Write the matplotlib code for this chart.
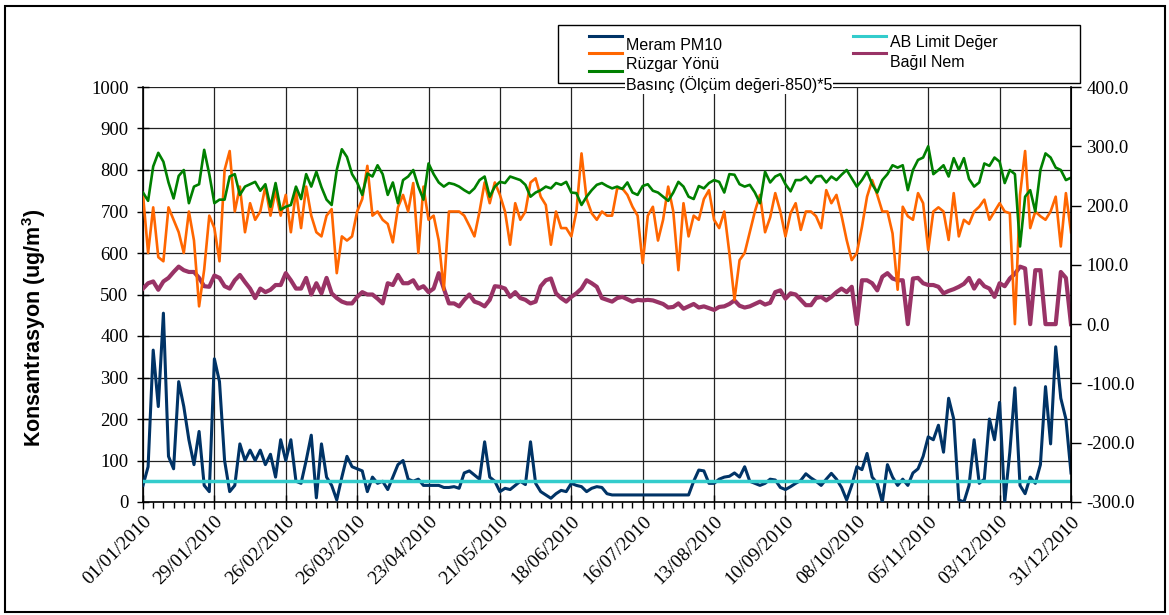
import numpy as np
import pandas as pd
import matplotlib
matplotlib.use("Agg")
import matplotlib.pyplot as plt
import matplotlib.dates as mdates
from matplotlib.lines import Line2D
from matplotlib.patches import Rectangle

plt.rcParams['mathtext.default'] = 'regular'

# every second day of 2010
dates = pd.date_range('2010-01-01', '2010-12-31', freq='2D')

# Meram PM10 (ug/m3) - left axis
pm10 = [40, 85, 366, 230, 455, 110, 80, 290, 230, 150, 90, 170, 40, 25, 345, 290, 100, 25, 40, 140,
        100, 125, 100, 125, 90, 115, 60, 150, 100, 150, 50,
        45, 100, 161, 10, 140, 60, 40, 5, 60, 110, 85, 80, 75, 25, 60, 45, 50, 30, 60,
        90, 100, 55, 50, 55, 40, 40, 40, 40, 35, 35, 37,
        33, 70, 75, 65, 55, 145, 60, 50, 25, 33, 30, 40, 50, 42, 145, 45, 25, 17, 9,
        20, 28, 25, 45, 40, 37, 25, 33, 37, 35, 20, 17,
        17, 17, 17, 17, 17, 17, 17, 17, 17, 17, 17, 17, 17, 17, 17,
        50, 77, 75, 45, 45, 55, 60, 62, 70, 60, 85, 50, 45, 40, 45, 55,
        53, 35, 30, 37, 45, 52, 68, 58, 50, 40, 55, 69, 55, 35, 5, 40, 85, 78, 117, 60,
        45, 0, 90, 60, 40, 55, 40, 70, 80,
        110, 157, 150, 185, 120, 250, 200, 5, 0, 40, 150, 45, 55, 200, 150, 240, 0, 120, 275, 40,
        20, 60, 45, 90, 278, 140, 374, 250, 200, 70]
limit = 50

# right axis series
wind_dir = [218, 120, 197, 113, 106, 197, 176, 155, 120, 190, 141, 30, 92, 183, 162, 106, 260, 292, 190, 232,
            155, 204, 176, 190, 232, 183, 225, 183, 218, 155, 225,
            162, 232, 183, 155, 148, 183, 194, 86, 148, 141, 148, 190, 211, 267, 183, 190, 176, 169, 138,
            197, 218, 190, 238, 120, 232, 176, 183, 141, 58, 190, 190,
            190, 183, 166, 148, 190, 239, 204, 239, 218, 190, 134, 204, 176, 190, 239, 246, 215, 201, 134,
            190, 162, 162, 148, 190, 288, 211, 187, 176, 190, 183, 183,
            229, 229, 218, 198, 183, 103, 183, 198, 141, 176, 232, 190, 91, 204, 148, 183, 176, 211, 226, 176,
            162, 190, 120, 41, 108, 120, 155, 190, 218, 155, 180,
            221, 190, 148, 187, 204, 159, 190, 190, 182, 162, 226, 204, 218, 183, 142, 108, 120, 164, 215, 243,
            218, 190, 190, 153, 58, 198, 182, 176, 221,
            204, 125, 190, 197, 190, 142, 221, 148, 176, 169, 190, 198, 210, 176, 190, 204, 190, 187, 0, 218,
            292, 162, 190, 182, 176, 190, 215, 131, 221, 155]

pressure = [222, 208, 266, 289, 274, 239, 212, 250, 260, 204, 232, 236, 294, 253, 204, 210, 210, 249, 253, 218,
            232, 236, 240, 225, 236, 198, 238, 193, 198, 201, 232,
            211, 253, 232, 257, 231, 210, 201, 260, 295, 282, 253, 239, 218, 254, 249, 268, 253, 218, 239,
            204, 243, 249, 260, 232, 210, 271, 253, 239, 232, 238, 236,
            232, 226, 221, 229, 243, 249, 215, 232, 240, 238, 249, 246, 243, 235, 215, 222, 226, 232, 229,
            238, 235, 240, 222, 221, 201, 215, 226, 235, 238, 233, 229,
            232, 228, 239, 222, 218, 233, 236, 225, 222, 215, 208, 222, 240, 232, 215, 211, 233, 229, 238, 243,
            240, 222, 253, 252, 236, 232, 235, 222, 204, 257, 239,
            249, 253, 236, 224, 243, 243, 249, 238, 249, 250, 239, 249, 243, 252, 260, 246, 232, 243, 257, 236,
            222, 243, 253, 268, 264, 268, 226, 260, 277,
            281, 300, 253, 260, 268, 249, 280, 260, 280, 245, 232, 239, 271, 267, 281, 274, 238, 260, 253, 131,
            215, 226, 190, 260, 288, 281, 264, 260, 243, 247]

humidity = [60, 69, 72, 58, 72, 78, 88, 97, 91, 88, 88, 78, 64, 63, 82, 78, 64, 60, 74, 83,
            71, 60, 44, 60, 54, 58, 66, 66, 86, 74, 60,
            60, 78, 50, 69, 52, 78, 52, 44, 38, 35, 35, 46, 54, 50, 50, 43, 35, 69, 66,
            83, 69, 69, 74, 60, 64, 54, 60, 86, 60, 35, 35,
            30, 41, 50, 38, 35, 30, 41, 64, 63, 60, 46, 54, 44, 41, 35, 38, 64, 74, 77,
            52, 44, 38, 46, 52, 60, 74, 69, 63, 44, 41, 38,
            44, 46, 42, 38, 41, 40, 41, 40, 37, 34, 28, 29, 35, 26, 30, 34, 28, 30, 27, 24,
            29, 30, 34, 40, 31, 28, 30, 34, 38, 33, 36,
            54, 57, 43, 52, 50, 41, 32, 32, 44, 46, 40, 46, 54, 60, 54, 63, 0, 74, 74, 69,
            57, 80, 86, 77, 74, 74, 0, 77, 78,
            69, 66, 66, 63, 52, 56, 59, 63, 68, 78, 60, 74, 64, 60, 46, 69, 64, 77, 85, 97,
            94, 0, 91, 91, 0, 0, 0, 88, 78, 0]

major_dates = pd.date_range('2010-01-01', periods=14, freq='28D')
minor_dates = pd.date_range('2010-01-01', '2010-12-31', freq='4D')

c_pm = '#003366'
c_lim = '#33CCCC'
c_wind = '#FF6600'
c_pres = '#008000'
c_hum = '#993366'

serif = 'Liberation Serif'
sans = 'Liberation Sans'

fig = plt.figure(figsize=(11.69, 6.15), dpi=100)
ax = fig.add_axes([143 / 1169, 1 - 502 / 615, 928 / 1169, 415 / 615])
ax2 = ax.twinx()

ax.plot(dates, pm10, color=c_pm, lw=2.2, zorder=3)
ax.plot(dates, [limit] * len(dates), color=c_lim, lw=2.5, zorder=4)

ax2.plot(dates, humidity, color=c_hum, lw=3.0)
ax2.plot(dates, wind_dir, color=c_wind, lw=1.9)
ax2.plot(dates, pressure, color=c_pres, lw=1.9)

ax.set_xlim(pd.Timestamp('2010-01-01'), pd.Timestamp('2010-12-31'))
ax.set_ylim(0, 1000)
ax2.set_ylim(-300, 400)
ax.set_yticks(np.arange(0, 1001, 100))
ax2.set_yticks(np.arange(-300, 401, 100))
ax2.yaxis.set_major_formatter(matplotlib.ticker.FormatStrFormatter('%.1f'))

ax.xaxis.set_major_locator(matplotlib.ticker.FixedLocator(mdates.date2num(major_dates)))
ax.xaxis.set_minor_locator(matplotlib.ticker.FixedLocator(mdates.date2num(minor_dates)))
ax.xaxis.set_major_formatter(mdates.DateFormatter('%d/%m/%Y'))

ax.grid(True, which='major', color='#222222', lw=0.9)
ax.set_axisbelow(True)
ax.spines['top'].set_visible(False)
ax2.spines['top'].set_visible(False)
ax2.spines['left'].set_visible(False)
ax2.spines['bottom'].set_visible(False)
for sp in [ax.spines['left'], ax.spines['bottom'], ax2.spines['right']]:
    sp.set_color('black')
    sp.set_linewidth(1.2)

ax.tick_params(axis='y', direction='inout', length=9, width=1, pad=6, labelsize=13.5)
ax.tick_params(axis='x', which='major', direction='inout', length=10, width=1, pad=3, labelsize=14)
ax.tick_params(axis='x', which='minor', direction='out', length=4, width=1)
ax2.tick_params(axis='y', direction='out', length=7, width=1, pad=4, labelsize=13.5)
for lab in ax.get_yticklabels() + ax2.get_yticklabels():
    lab.set_fontfamily(serif)
for lab in ax.get_xticklabels():
    lab.set_fontfamily(serif)
    lab.set_rotation(45)
    lab.set_ha('right')
    lab.set_va('top')
    lab.set_rotation_mode('anchor')

ax.set_ylabel('Konsantrasyon (ug/m$^3$)', fontsize=15.5, fontweight='bold', family=sans)
ax.yaxis.set_label_coords(-0.102, 0.42)

# legend (drawn by hand to follow the original layout)
fig.add_artist(Rectangle((558 / 1169, 1 - 83 / 615), 522 / 1169, 58 / 615, transform=fig.transFigure,
                         facecolor='white', edgecolor='black', lw=1, zorder=5))
leg_names = ['Meram PM10', 'Rüzgar Yönü', 'Basınç (Ölçüm değeri-850)*5', 'AB Limit Değer', 'Bağıl Nem']
leg_colors = [c_pm, c_wind, c_pres, c_lim, c_hum]
leg_hx = [589, 589, 589, 853, 853]
leg_hy = [36, 53, 71, 36, 53]
leg_ty = [45, 64, 85, 43, 62]
for name, col, hx, hy, ty in zip(leg_names, leg_colors, leg_hx, leg_hy, leg_ty):
    fig.add_artist(Line2D([hx / 1169, (hx + 33) / 1169], [1 - hy / 615, 1 - hy / 615],
                          transform=fig.transFigure, color=col, lw=2.2, zorder=6))
    t = fig.text((hx + 37) / 1169, 1 - ty / 615, name, fontsize=11.5, family=sans, va='center', ha='left',
                 zorder=7)
    if name.startswith('Bas'):
        t.set_bbox(dict(facecolor='white', edgecolor='none', pad=0.5))

# outer frame
fig.add_artist(Rectangle((5 / 1169, 3 / 615), 1160 / 1169, 606 / 615, transform=fig.transFigure,
                         facecolor='none', edgecolor='black', lw=1.5))

fig.savefig('out.png', dpi=100)
